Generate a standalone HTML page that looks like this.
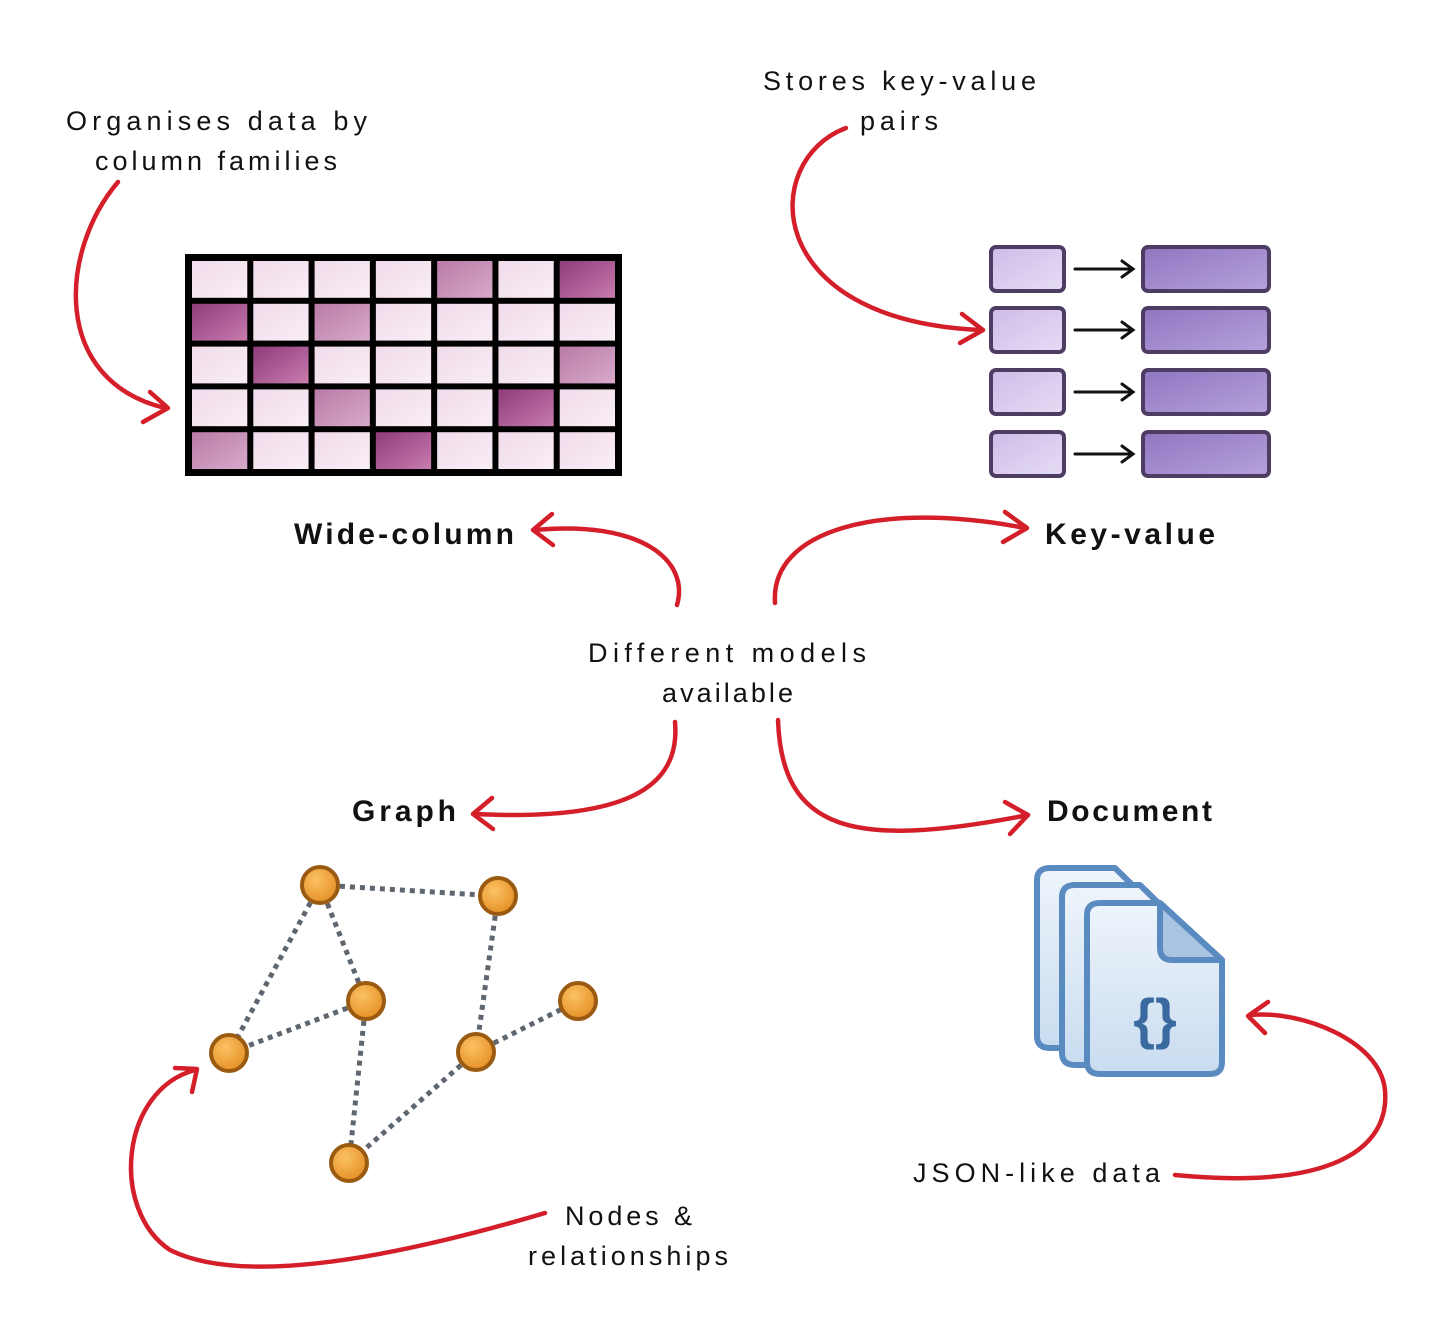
<!DOCTYPE html>
<html><head><meta charset="utf-8"><style>
html,body{margin:0;padding:0;background:#fff;}
svg{display:block;}
text{font-family:"Liberation Sans","DejaVu Sans",sans-serif;fill:#111;}
.l{font-size:27px;}
.b{font-size:30px;font-weight:bold;}
.r{fill:none;stroke:#d41f2a;stroke-width:4.5;stroke-linecap:round;stroke-linejoin:round;}
</style></head><body>
<svg width="1456" height="1341" viewBox="0 0 1456 1341">
<defs>
<linearGradient id="g0" x1="0" y1="0" x2="1" y2="1"><stop offset="0" stop-color="#f0dbea"/><stop offset="1" stop-color="#f9eef6"/></linearGradient>
<linearGradient id="g1" x1="0" y1="0" x2="1" y2="1"><stop offset="0" stop-color="#b97ba6"/><stop offset="1" stop-color="#d8aacb"/></linearGradient>
<linearGradient id="g2" x1="0" y1="0" x2="1" y2="1"><stop offset="0" stop-color="#8f3c7a"/><stop offset="1" stop-color="#c77bae"/></linearGradient>
<linearGradient id="kk" x1="0" y1="0" x2="1" y2="1"><stop offset="0" stop-color="#cdbce8"/><stop offset="1" stop-color="#e6dcf5"/></linearGradient>
<linearGradient id="vv" x1="0" y1="0" x2="1" y2="1"><stop offset="0" stop-color="#8e76c0"/><stop offset="1" stop-color="#b6a2dc"/></linearGradient>
<linearGradient id="dd" x1="0" y1="0" x2="0" y2="1"><stop offset="0" stop-color="#eef4fb"/><stop offset="1" stop-color="#c9dcf0"/></linearGradient>
<radialGradient id="nn" cx="0.4" cy="0.35" r="0.7"><stop offset="0" stop-color="#fbc164"/><stop offset="1" stop-color="#e48e22"/></radialGradient>
</defs>

<rect x="185" y="254" width="437" height="222" fill="#000"/>
<g id="grid"></g>
<script>
(function(){
var s=[[0,0,0,0,1,0,2],[2,0,1,0,0,0,0],[0,2,0,0,0,0,1],[0,0,1,0,0,2,0],[1,0,0,2,0,0,0]];
var g=document.getElementById('grid'),ns='http://www.w3.org/2000/svg';
var cw=(437-8)/7,rh=(222-8)/5;
for(var r=0;r<5;r++)for(var c=0;c<7;c++){var e=document.createElementNS(ns,'rect');
e.setAttribute('x',190+c*cw+2);e.setAttribute('y',259+r*rh+2);e.setAttribute('width',cw-6);e.setAttribute('height',rh-6);
e.setAttribute('fill','url(#g'+s[r][c]+')');g.appendChild(e);}
})();
</script>

<g stroke="#4e3d63" stroke-width="4">
<rect x="991" y="247" width="73" height="44" rx="5" fill="url(#kk)"/>
<rect x="991" y="308" width="73" height="44" rx="5" fill="url(#kk)"/>
<rect x="991" y="370" width="73" height="44" rx="5" fill="url(#kk)"/>
<rect x="991" y="432" width="73" height="44" rx="5" fill="url(#kk)"/>
<rect x="1143" y="247" width="126" height="44" rx="5" fill="url(#vv)"/>
<rect x="1143" y="308" width="126" height="44" rx="5" fill="url(#vv)"/>
<rect x="1143" y="370" width="126" height="44" rx="5" fill="url(#vv)"/>
<rect x="1143" y="432" width="126" height="44" rx="5" fill="url(#vv)"/>
</g>
<g stroke="#111" stroke-width="3" fill="none" stroke-linecap="round">
<path d="M1075 269 H1132 M1122 261 L1133 269 L1122 277"/>
<path d="M1075 330 H1132 M1122 322 L1133 330 L1122 338"/>
<path d="M1075 392 H1132 M1122 384 L1133 392 L1122 400"/>
<path d="M1075 454 H1132 M1122 446 L1133 454 L1122 462"/>
</g>

<g stroke="#5e6670" stroke-width="5" stroke-dasharray="5 5" fill="none">
<line x1="320" y1="885" x2="498" y2="896"/>
<line x1="320" y1="885" x2="366" y2="1001"/>
<line x1="320" y1="885" x2="229" y2="1053"/>
<line x1="366" y1="1001" x2="229" y2="1053"/>
<line x1="366" y1="1001" x2="349" y2="1163"/>
<line x1="498" y1="896" x2="476" y2="1052"/>
<line x1="476" y1="1052" x2="578" y2="1001"/>
<line x1="476" y1="1052" x2="349" y2="1163"/>
</g>
<g fill="url(#nn)" stroke="#9a5a12" stroke-width="4">
<circle cx="320" cy="885" r="18"/><circle cx="498" cy="896" r="18"/>
<circle cx="366" cy="1001" r="18"/><circle cx="578" cy="1001" r="18"/>
<circle cx="229" cy="1053" r="18"/><circle cx="476" cy="1052" r="18"/>
<circle cx="349" cy="1163" r="18"/>
</g>

<g stroke="#5a8bc0" stroke-width="6" stroke-linejoin="round" fill="url(#dd)">
<path d="M1050 868 H1115 L1160 912 V1036 Q1160 1048 1148 1048 H1050 Q1037 1048 1037 1036 V880 Q1037 868 1050 868 Z"/>
<path d="M1075 885 H1140 L1185 929 V1053 Q1185 1065 1173 1065 H1075 Q1062 1065 1062 1053 V897 Q1062 885 1075 885 Z"/>
<path d="M1100 903 H1160 L1222 960 V1062 Q1222 1074 1210 1074 H1100 Q1087 1074 1087 1062 V915 Q1087 903 1100 903 Z"/>
<path d="M1160 903 V948 Q1160 960 1172 960 H1222 Z" fill="#a9c4e2"/>
</g>
<text x="1155" y="1038" text-anchor="middle" style="font-size:56px;fill:#3a6aa0;font-weight:bold">{}</text>

<text class="l" x="66" y="130" textLength="301" lengthAdjust="spacing">Organises data by</text>
<text class="l" x="95" y="170" textLength="242" lengthAdjust="spacing">column families</text>
<text class="l" x="763" y="90" textLength="273" lengthAdjust="spacing">Stores key-value</text>
<text class="l" x="860" y="130" textLength="78" lengthAdjust="spacing">pairs</text>
<text class="b" x="294" y="544" textLength="220" lengthAdjust="spacing">Wide-column</text>
<text class="b" x="1045" y="544" textLength="170" lengthAdjust="spacing">Key-value</text>
<text class="l" x="588" y="662" textLength="278" lengthAdjust="spacing">Different models</text>
<text class="l" x="662" y="702" textLength="131" lengthAdjust="spacing">available</text>
<text class="b" x="352" y="821" textLength="104" lengthAdjust="spacing">Graph</text>
<text class="b" x="1047" y="821" textLength="165" lengthAdjust="spacing">Document</text>
<text class="l" x="913" y="1182" textLength="247" lengthAdjust="spacing">JSON-like data</text>
<text class="l" x="565" y="1225" textLength="127" lengthAdjust="spacing">Nodes &amp;</text>
<text class="l" x="528" y="1265" textLength="200" lengthAdjust="spacing">relationships</text>

<path class="r" d="M118 182 C60 250 50 380 165 408"/>
<path class="r" d="M150 392 L168 408 L143 422"/>
<path class="r" d="M846 128 C760 160 760 320 980 330"/>
<path class="r" d="M962 314 L983 330 L960 343"/>
<path class="r" d="M677 605 C690 560 640 520 535 530"/>
<path class="r" d="M552 514 L533 530 L553 545"/>
<path class="r" d="M775 603 C770 530 880 500 1025 528"/>
<path class="r" d="M1005 512 L1027 528 L1003 542"/>
<path class="r" d="M675 722 C680 780 640 822 475 814"/>
<path class="r" d="M492 798 L473 814 L493 829"/>
<path class="r" d="M778 720 C782 830 850 850 1028 815"/>
<path class="r" d="M1005 802 L1028 815 L1010 834"/>
<path class="r" d="M1175 1175 C1330 1190 1390 1150 1385 1090 C1380 1040 1300 1010 1250 1015"/>
<path class="r" d="M1268 1002 L1248 1016 L1265 1033"/>
<path class="r" d="M545 1213 C420 1250 250 1290 170 1250 C110 1210 120 1090 195 1070"/>
<path class="r" d="M175 1068 L197 1069 L192 1092"/>
</svg>
</body></html>
